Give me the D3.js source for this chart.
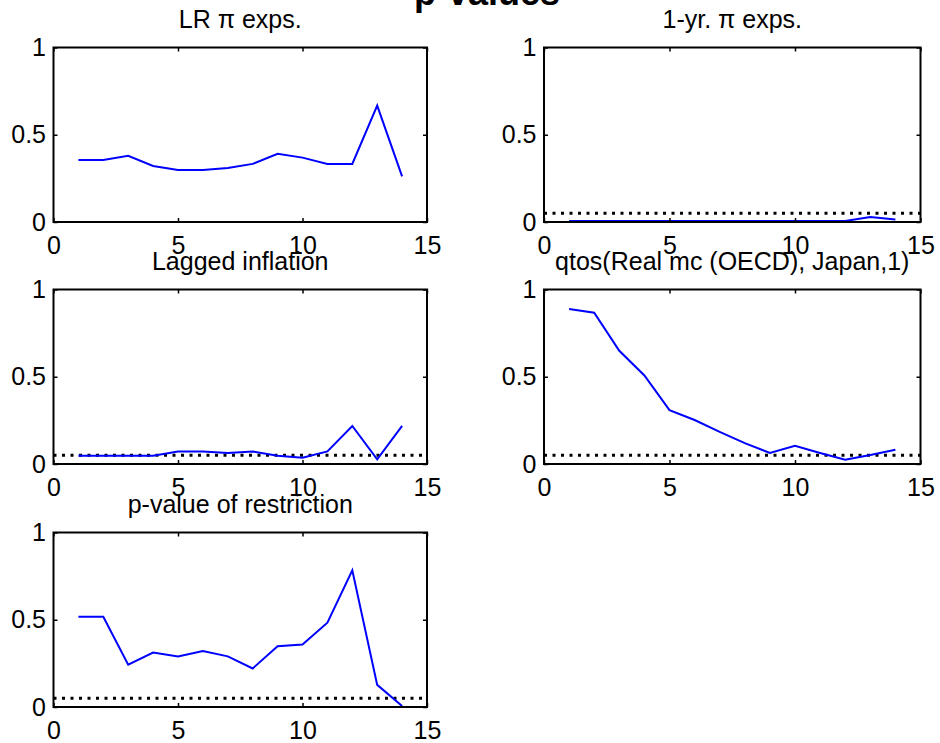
<!DOCTYPE html>
<html>
<head>
<meta charset="utf-8">
<script src="https://cdn.jsdelivr.net/npm/d3@7"></script>
<style>
  html, body { margin: 0; padding: 0; background: #fff; }
  svg { display: block; }
  text { font-family: "Liberation Sans", Arial, Helvetica, sans-serif; fill: #000; }
</style>
</head>
<body>
<svg id="chart" width="940" height="743"></svg>
<script>
// ---------- data ----------
const horizons = [1, 2, 3, 4, 5, 6, 7, 8, 9, 10, 11, 12, 13, 14];
const lrExps      = [0.356, 0.356, 0.379, 0.321, 0.298, 0.298, 0.309, 0.333, 0.391, 0.369, 0.333, 0.333, 0.667, 0.261];
const oneYrExps   = [0.006, 0.006, 0.006, 0.006, 0.006, 0.006, 0.006, 0.006, 0.006, 0.006, 0.006, 0.006, 0.029, 0.015];
const laggedInfl  = [0.047, 0.047, 0.047, 0.047, 0.072, 0.072, 0.063, 0.072, 0.047, 0.036, 0.072, 0.218, 0.027, 0.218];
const qtosMc      = [0.888, 0.867, 0.649, 0.507, 0.309, 0.252, 0.184, 0.120, 0.063, 0.104, 0.063, 0.025, 0.051, 0.082];
const restriction = [0.517, 0.517, 0.242, 0.312, 0.290, 0.321, 0.290, 0.221, 0.348, 0.358, 0.483, 0.783, 0.127, 0.006];
const panelTitles = ["LR \u03C0 exps.", "1-yr. \u03C0 exps.", "Lagged inflation", "qtos(Real mc (OECD), Japan,1)", "p-value of restriction"];
const panelSeries = [lrExps, oneYrExps, laggedInfl, qtosMc, restriction];
const showSigLine = [false, true, true, true, true];
const sigLevel = 0.05;
const xTicks = [0, 5, 10, 15];
const yTicks = [0, 0.5, 1];
const yTickLabels = ["0", "0.5", "1"];
const xDomain = [0, 15];
const yDomain = [0, 1];
const mainTitle = "p-values";

// ---------- layout ----------
const svg = d3.select("#chart");
svg.append("rect").attr("width", 940).attr("height", 743).attr("fill", "#fff");

const colX = [[53.5, 427], [544, 920.5]];
const rowTop = [47.5, 289.5, 532.5];
const panelH = 174.5;

svg.append("text")
  .attr("x", 487).attr("y", 5)
  .attr("text-anchor", "middle")
  .style("font-size", "36px").style("font-weight", "bold")
  .text(mainTitle);

panelSeries.forEach((vals, i) => {
  const col = i % 2, row = Math.floor(i / 2);
  const [x0, x1] = colX[col];
  const y0 = rowTop[row], y1 = y0 + panelH;
  const x = d3.scaleLinear().domain(xDomain).range([x0, x1]);
  const y = d3.scaleLinear().domain(yDomain).range([y1, y0]);
  const g = svg.append("g");

  // significance line
  if (showSigLine[i]) {
    g.append("line")
      .attr("x1", x(xDomain[0])).attr("x2", x(xDomain[1]))
      .attr("y1", y(sigLevel)).attr("y2", y(sigLevel))
      .attr("stroke", "#000").attr("stroke-width", 3)
      .attr("stroke-dasharray", "3 5.5");
  }

  // series line
  g.append("path")
    .datum(vals.map((v, k) => [horizons[k], v]))
    .attr("fill", "none").attr("stroke", "#0000ff").attr("stroke-width", 2)
    .attr("stroke-linejoin", "miter")
    .attr("d", d3.line().x(d => x(d[0])).y(d => y(d[1])));

  // axes
  const styleAxis = sel => {
    sel.select(".domain").remove();
    sel.selectAll(".tick line").attr("stroke", "#000").attr("stroke-width", 1.5);
    sel.selectAll(".tick text").style("font-size", "25px").attr("fill", "#000")
      .style("font-family", "'Liberation Sans', Arial, sans-serif");
  };
  g.append("g").attr("transform", `translate(0,${y1})`)
    .call(d3.axisBottom(x).tickValues(xTicks).tickSizeInner(-4).tickSizeOuter(0).tickPadding(14.5).tickFormat(d3.format("d")))
    .call(styleAxis);
  g.append("g").attr("transform", `translate(0,${y0})`)
    .call(d3.axisTop(x).tickValues(xTicks).tickSizeInner(-4).tickSizeOuter(0).tickFormat(""))
    .call(styleAxis);
  g.append("g").attr("transform", `translate(${x0},0)`)
    .call(d3.axisLeft(y).tickValues(yTicks).tickSizeInner(-4).tickSizeOuter(0).tickPadding(7.5)
      .tickFormat((d, k) => yTickLabels[k]))
    .call(styleAxis);
  g.append("g").attr("transform", `translate(${x1},0)`)
    .call(d3.axisRight(y).tickValues(yTicks).tickSizeInner(-4).tickSizeOuter(0).tickFormat(""))
    .call(styleAxis);

  // box
  g.append("rect")
    .attr("x", x0).attr("y", y0).attr("width", x1 - x0).attr("height", y1 - y0)
    .attr("fill", "none").attr("stroke", "#000").attr("stroke-width", 2);

  // panel title
  g.append("text")
    .attr("x", (x0 + x1) / 2).attr("y", y0 - 19.5)
    .attr("text-anchor", "middle")
    .style("font-size", "25px")
    .text(panelTitles[i]);
});
</script>
</body>
</html>
